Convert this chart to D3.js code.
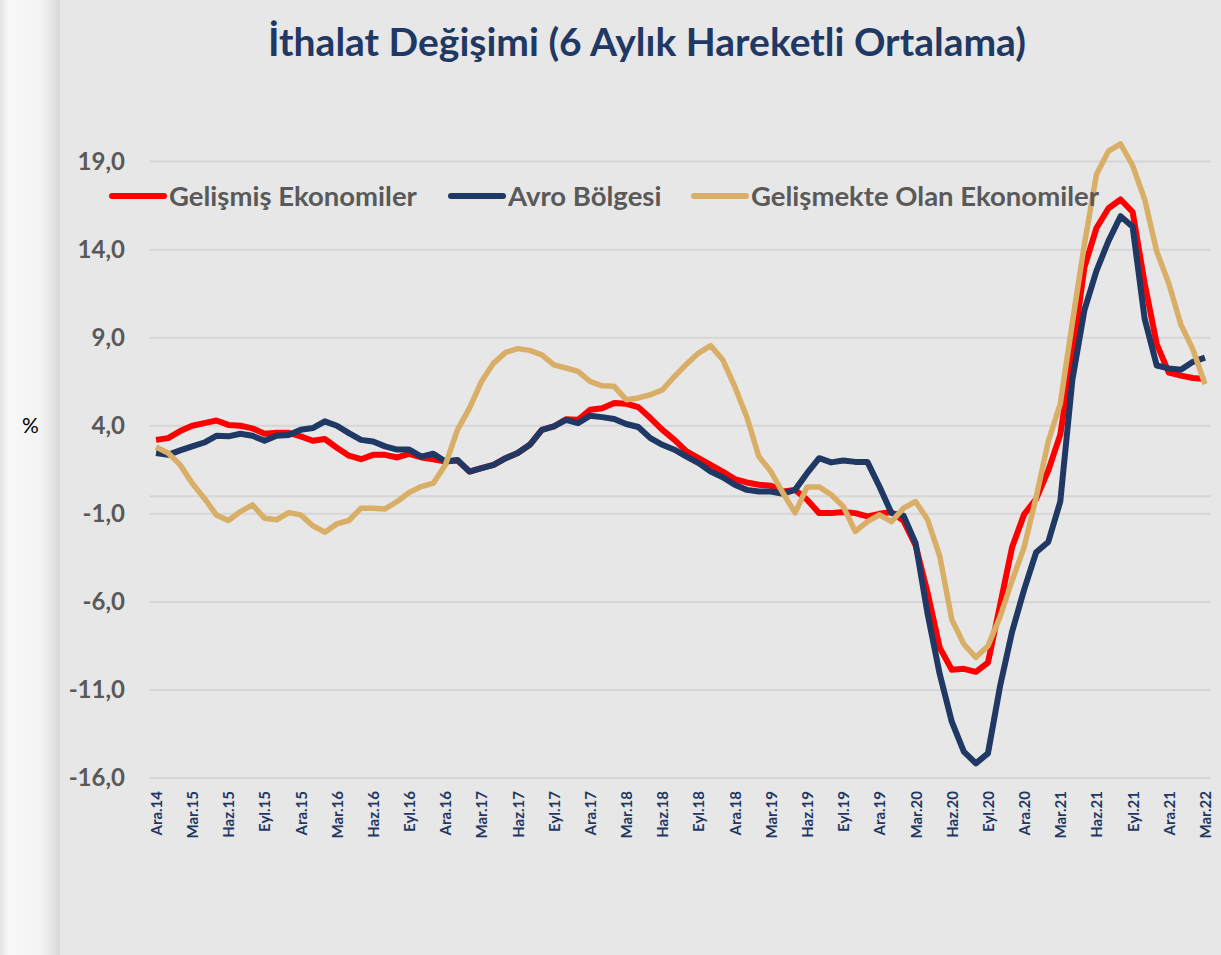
<html>
<head>
<meta charset="utf-8">
<script src="https://cdn.jsdelivr.net/npm/d3@7/dist/d3.min.js"></script>
<style>
  body { margin: 0; background: #e7e7e7; }
  text { font-family: Lato, "Open Sans", sans-serif; }
</style>
</head>
<body>
<div id="div1"></div>

<script>

//Svg Dimensions
var svg_width= 1221
var svg_height= 955

// categories: monthly, Ara.14 .. Mar.22
var month_names= ["Oca", "Şub", "Mar", "Nis", "May", "Haz", "Tem", "Ağu", "Eyl", "Eki", "Kas", "Ara"]
var months= []
for (var yr = 14; yr <= 22; yr++) {
  for (var m = 0; m < 12; m++) {
    if ((yr == 14 && m < 11) || (yr == 22 && m > 2)) continue
    months.push(month_names[m] + "." + yr)
  }
}
var tick_labels= months.filter(function(d, i) { return i % 3 == 0 })
var y_ticks= [19, 14, 9, 4, -1, -6, -11, -16]

var series_names= ["Gelişmiş Ekonomiler", "Avro Bölgesi", "Gelişmekte Olan Ekonomiler"]

var gelismis= [3.2, 3.3, 3.7, 4.0, 4.15, 4.3, 4.05, 4.0, 3.85, 3.55, 3.6, 3.6,
  3.4, 3.15, 3.25, 2.75, 2.3, 2.1, 2.35, 2.35, 2.2, 2.4, 2.2, 2.1,
  1.97, 2.03, 1.4, 1.6, 1.78, 2.16, 2.45, 2.92, 3.77, 3.96, 4.37, 4.34,
  4.91, 5.0, 5.29, 5.25, 5.06, 4.44, 3.77, 3.2, 2.55, 2.16, 1.78, 1.4,
  0.97, 0.78, 0.65, 0.59, 0.27, 0.36, -0.2, -0.96, -0.96, -0.9, -0.96, -1.15,
  -1.0, -0.9, -1.4, -2.8, -5.5, -8.6, -9.85, -9.8, -9.97, -9.45, -6.2, -2.9,
  -1.03, -0.15, 1.45, 3.5, 8.0, 13.0, 15.23, 16.35, 16.85, 16.14, 12.08, 8.64,
  7.02, 6.85, 6.71, 6.65]

var avro= [2.45, 2.35, 2.6, 2.83, 3.05, 3.43, 3.4, 3.55, 3.43, 3.15, 3.43, 3.47,
  3.77, 3.87, 4.25, 4.0, 3.58, 3.2, 3.11, 2.83, 2.65, 2.65, 2.25, 2.41,
  1.97, 2.06, 1.4, 1.6, 1.78, 2.16, 2.45, 2.92, 3.77, 3.96, 4.34, 4.15,
  4.57, 4.49, 4.38, 4.1, 3.93, 3.3, 2.92, 2.64, 2.25, 1.88, 1.4, 1.08,
  0.65, 0.36, 0.27, 0.27, 0.14, 0.36, 1.31, 2.16, 1.92, 2.03, 1.95, 1.95,
  0.55, -0.96, -1.1, -2.67, -6.7, -10.1, -12.8, -14.5, -15.17, -14.6, -10.8, -7.7,
  -5.3, -3.18, -2.6, -0.3, 6.6, 10.56, 12.8, 14.5, 15.9, 15.3, 10.06, 7.42,
  7.26, 7.18, 7.63, 7.87]

var gelismekte= [2.79, 2.45, 1.78, 0.74, -0.11, -1.06, -1.38, -0.87, -0.49, -1.25, -1.34, -0.93,
  -1.06, -1.68, -2.04, -1.57, -1.38, -0.68, -0.68, -0.72, -0.3, 0.21, 0.55, 0.74,
  1.78, 3.77, 5.0, 6.52, 7.56, 8.17, 8.38, 8.28, 8.03, 7.46, 7.28, 7.09,
  6.52, 6.27, 6.24, 5.48, 5.58, 5.76, 6.04, 6.8, 7.5, 8.13, 8.55, 7.75,
  6.23, 4.5, 2.25, 1.4, 0.18, -0.95, 0.53, 0.53, 0.08, -0.58, -2.0, -1.44,
  -1.06, -1.44, -0.68, -0.3, -1.34, -3.4, -7.0, -8.4, -9.15, -8.5, -6.85, -4.8,
  -2.9, -0.05, 3.1, 5.25, 9.85, 14.3, 18.27, 19.6, 20.0, 18.78, 16.85, 13.9,
  12.08, 9.75, 8.34, 6.37]

var series_colors= ["#ff0000", "#1f3864", "#d9ae66"]

var svg= d3.select("#div1").append("svg")
.attr("width", svg_width)
.attr("height", svg_height)

//background
svg.append("rect")
.attr("width", svg_width)
.attr("height", svg_height)
.style("fill", "#e7e7e7")

var grad= svg.append("defs").append("linearGradient")
.attr("id", "strip")
grad.append("stop").attr("offset", "0%").attr("stop-color", "#e4e4e4")
grad.append("stop").attr("offset", "15%").attr("stop-color", "#f8f8f8")
grad.append("stop").attr("offset", "70%").attr("stop-color", "#f3f3f3")
grad.append("stop").attr("offset", "88%").attr("stop-color", "#e4e4e4")
grad.append("stop").attr("offset", "100%").attr("stop-color", "#d6d6d6")

svg.append("rect")
.attr("x", 0)
.attr("width", 60)
.attr("height", svg_height)
.style("fill", "url(#strip)")

//scales
var x= d3.scalePoint()
.domain(months)
.range([150, 1211])
.padding(0.5)

var y= d3.scaleLinear()
.domain([-16, 19])
.range([778, 161.6])

//gridlines
svg.append("g")
.selectAll("line")
.data(y_ticks.concat([0]))
.enter().append("line")
.attr("x1", 150)
.attr("x2", 1211)
.attr("y1", function(d) { return y(d) })
.attr("y2", function(d) { return y(d) })
.style("stroke", "#d6d6d6")
.style("stroke-width", 2)

//y axis
var y_axis= svg.append("g")
.attr("transform", "translate(125, 0)")
.call(d3.axisLeft(y).tickValues(y_ticks).tickSize(0).tickPadding(0)
  .tickFormat(function(d) { return d.toFixed(1).replace(".", ",") }))
y_axis.select(".domain").remove()
y_axis.selectAll("text")
.style("font-family", "Lato, sans-serif")
.style("font-weight", "bold")
.style("font-size", "24px")
.style("fill", "#595959")

//x axis
var x_axis= svg.append("g")
.attr("transform", "translate(0, 791)")
.call(d3.axisBottom(x).tickValues(tick_labels).tickSize(0))
x_axis.select(".domain").remove()
x_axis.selectAll("text")
.attr("transform", "rotate(-90)")
.attr("x", 0)
.attr("y", 0)
.attr("dy", "0.36em")
.style("text-anchor", "end")
.style("font-family", "Lato, sans-serif")
.style("font-weight", "bold")
.style("font-size", "15px")
.style("fill", "#1f3864")

//lines
var line_maker= d3.line()
.x(function(d, i) { return x(months[i]) })
.y(function(d) { return y(d) })

var all_series= [gelismis, avro, gelismekte]
var widths= [6, 6, 5.5]

all_series.forEach(function(s, k) {
  svg.append("path")
  .datum(s)
  .attr("d", line_maker)
  .style("fill", "none")
  .style("stroke", series_colors[k])
  .style("stroke-width", widths[k])
  .style("stroke-linejoin", "round")
})

//legend
var legend_x= [112, 451, 694]
series_names.forEach(function(name, k) {
  var g= svg.append("g")
  .attr("transform", "translate(" + legend_x[k] + ", 196)")
  g.append("line")
  .attr("x1", 0)
  .attr("x2", 52)
  .attr("y1", 0)
  .attr("y2", 0)
  .style("stroke", series_colors[k])
  .style("stroke-width", 6)
  .style("stroke-linecap", "round")
  g.append("text")
  .text(name)
  .attr("x", 57)
  .attr("dy", "0.36em")
  .style("font-weight", "bold")
  .style("font-size", "27.5px")
  .style("fill", "#595959")
})

//title
svg.append("text")
.text("İthalat Değişimi (6 Aylık Hareketli Ortalama)")
.attr("x", 647)
.attr("y", 56)
.attr("text-anchor", "middle")
.style("font-weight", "bold")
.style("font-size", "39px")
.style("fill", "#1f3864")

svg.append("text")
.text("%")
.attr("x", 22)
.attr("y", 433)
.style("font-size", "21px")
.style("fill", "#000000")

</script>
</body>
</html>
